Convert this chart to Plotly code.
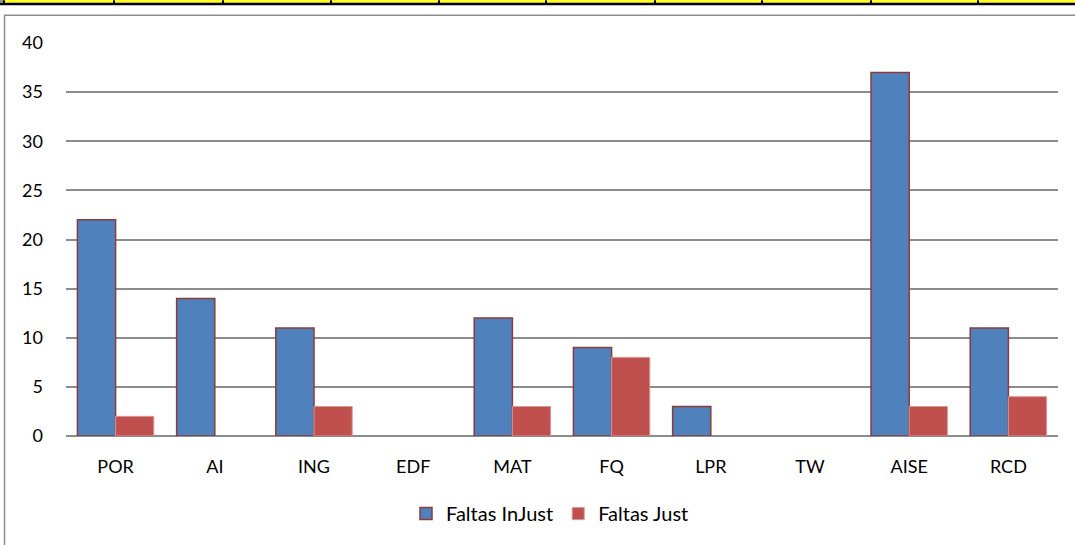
import plotly.graph_objects as go

categories = ["POR", "AI", "ING", "EDF", "MAT", "FQ", "LPR", "TW", "AISE", "RCD"]
faltas_injust = [22, 14, 11, 0, 12, 9, 3, 0, 37, 11]
faltas_just = [2, 0, 3, 0, 3, 8, 0, 0, 3, 4]
y_ticks = [0, 5, 10, 15, 20, 25, 30, 35, 40]

W, H = 1075, 545
L, R, T, B = 66, 17, 43, 107  # plot area margins in px
PW, PH = W - L - R, H - T - B


def px(x):
    return (x - L) / PW


def py(y):
    return (H - B - y) / PH


# no outline on empty bars
inj_lw = [1.5 if v else 0 for v in faltas_injust]
jus_lw = [1 if v else 0 for v in faltas_just]

fig = go.Figure()
fig.add_trace(go.Bar(x=categories, y=faltas_injust, name="Faltas InJust",
                     marker=dict(color="#4F81BD", line=dict(color="#8E3A38", width=inj_lw))))
fig.add_trace(go.Bar(x=categories, y=faltas_just, name="Faltas Just",
                     marker=dict(color="#C0504D", line=dict(color="#D99694", width=jus_lw))))

shapes = []
# yellow strip of table row above the chart
shapes.append(dict(type="rect", xref="paper", yref="paper", x0=px(0), x1=px(W), y0=py(0), y1=py(2.5),
                   fillcolor="#FFFF00", line=dict(width=0), layer="above"))
shapes.append(dict(type="rect", xref="paper", yref="paper", x0=px(0), x1=px(W), y0=py(2.5), y1=py(5),
                   fillcolor="#000000", line=dict(width=0), layer="above"))
shapes.append(dict(type="rect", xref="paper", yref="paper", x0=px(0), x1=px(4), y0=py(0), y1=py(2.5),
                   fillcolor="#808080", line=dict(width=0), layer="above"))
for sx in [4, 114, 223, 331, 439, 546, 655, 762, 871, 978]:
    shapes.append(dict(type="line", xref="paper", yref="paper", x0=px(sx), x1=px(sx), y0=py(0), y1=py(3),
                       line=dict(color="#000000", width=2), layer="above"))
# chart frame
shapes.append(dict(type="line", xref="paper", yref="paper", x0=px(4), x1=px(W + 5), y0=py(15), y1=py(15),
                   line=dict(color="#8C8C8C", width=1.5)))
shapes.append(dict(type="line", xref="paper", yref="paper", x0=px(4.5), x1=px(4.5), y0=py(15), y1=py(H + 5),
                   line=dict(color="#8C8C8C", width=1.5)))

fig.update_layout(
    width=W, height=H,
    margin=dict(l=L, r=R, t=T, b=B),
    paper_bgcolor="white", plot_bgcolor="white",
    barmode="group", bargap=0.23, bargroupgap=0,
    font=dict(family="Lato, Open Sans, sans-serif", size=18, color="#000000"),
    shapes=shapes,
    showlegend=True,
    legend=dict(orientation="h", x=px(550), xanchor="center", y=py(516), yanchor="middle",
                font=dict(size=20), itemwidth=30, tracegroupgap=0),
    xaxis=dict(showgrid=False, showline=False, ticks="", ticklabelstandoff=18,
               range=[-0.5, 9.5]),
    yaxis=dict(range=[0, 40], tickvals=y_ticks, showgrid=True, gridcolor="#8C8C8C", gridwidth=1.5,
               zeroline=True, zerolinecolor="#8C8C8C", zerolinewidth=2, showline=False,
               ticks="", ticklabelstandoff=22),
)

fig.write_html("out.html", config={"displayModeBar": False},
               post_script="document.body.style.margin='0px';")
